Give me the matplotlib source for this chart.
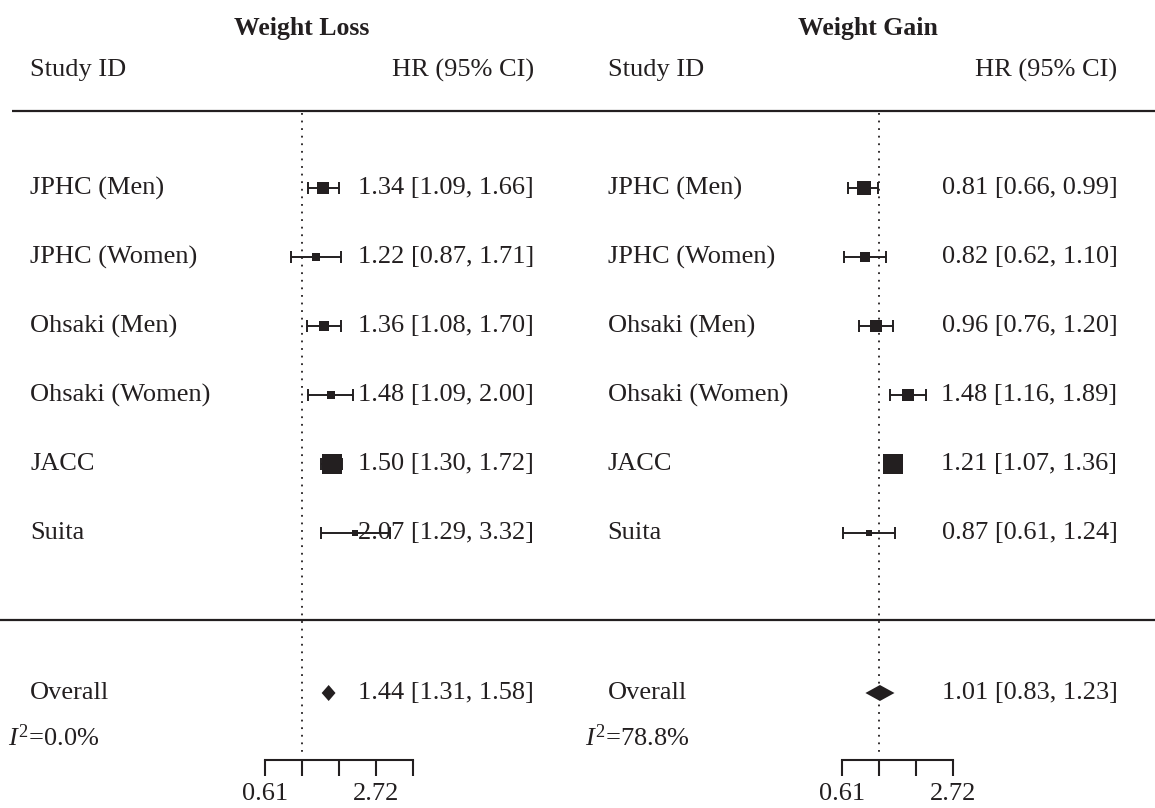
import numpy as np
import matplotlib
matplotlib.use("Agg")
import matplotlib.pyplot as plt
import matplotlib.transforms as mtransforms

plt.rcParams['font.family'] = ['Liberation Serif', 'DejaVu Serif']
plt.rcParams['mathtext.fontset'] = 'custom'
plt.rcParams['mathtext.rm'] = 'Liberation Serif'
plt.rcParams['mathtext.it'] = 'Liberation Serif:italic'

INK = '#231f20'

# data
studies = ['JPHC (Men)', 'JPHC (Women)', 'Ohsaki (Men)', 'Ohsaki (Women)', 'JACC', 'Suita']

loss_hr = [1.34, 1.22, 1.36, 1.48, 1.50, 2.07]
loss_lo = [1.09, 0.87, 1.08, 1.09, 1.30, 1.29]
loss_hi = [1.66, 1.71, 1.70, 2.00, 1.72, 3.32]
loss_weight = [18.8, 6.4, 13.0, 6.4, 52.2, 3.3]
loss_overall = [1.44, 1.31, 1.58]
loss_i2 = '0.0%'

gain_hr = [0.81, 0.82, 0.96, 1.48, 1.21, 0.87]
gain_lo = [0.66, 0.62, 0.76, 1.16, 1.07, 0.61]
gain_hi = [0.99, 1.10, 1.20, 1.89, 1.36, 1.24]
gain_weight = [21.4, 9.5, 13.7, 13.7, 38.1, 3.4]
gain_overall = [1.01, 0.83, 1.23]
gain_i2 = '78.8%'

loss_ticks = [0.6065, 1.0, 1.6487, 2.7183, 4.4817]
gain_ticks = [0.6065, 1.0, 1.6487, 2.7183]
tick_text = {0.6065: '0.61', 2.7183: '2.72'}

# layout, in row units (row 0 = first study, 69 px per row)
def ry(px):
    return (px - 188) / 69.0

W, H = 1155, 808
XLIM = (np.exp(-4.08), np.exp(3.73))

fig = plt.figure(figsize=(W / 100, H / 100), dpi=100)


def panel(x0, title, hr, lo, hi, weight, overall, i2, ticks, val_x, title_x, line_x0):
    ax = fig.add_axes([x0, 0, 0.5, 1])
    ax.set_xscale('log')
    ax.set_xlim(*XLIM)
    ax.set_ylim(ry(H), ry(0))
    ax.axis('off')
    tr = mtransforms.blended_transform_factory(ax.transAxes, ax.transData)

    fs = 19
    ax.text(title_x, ry(29), title, transform=tr, ha='center', va='center',
            fontsize=fs - 0.5, fontweight='bold', color=INK)
    ax.text(0.052, ry(70), 'Study ID', transform=tr, ha='left', va='center', fontsize=fs, color=INK)
    ax.text(val_x, ry(70), 'HR (95% CI)', transform=tr, ha='right', va='center', fontsize=fs, color=INK)

    ax.plot([line_x0, 1], [ry(111), ry(111)], transform=tr, color=INK, lw=1.6, solid_capstyle='butt')
    ax.plot([0, 1], [ry(620), ry(620)], transform=tr, color=INK, lw=1.6, solid_capstyle='butt')

    # reference line at HR = 1
    ax.vlines(1.0, ry(113), ry(752), colors=INK, linestyles=(0, (1, 3.2)), lw=1.3)

    wmax = max(weight)
    for i, name in enumerate(studies):
        ax.errorbar(hr[i], i, xerr=[[hr[i] - lo[i]], [hi[i] - hr[i]]], fmt='none',
                    ecolor=INK, elinewidth=1.4, capsize=4.5, capthick=1.4)
        side = 20 * np.sqrt(weight[i] / wmax)
        ax.plot(hr[i], i, marker='s', ms=side * 0.72, color=INK, mec=INK, mew=0)
        ax.text(0.052, i, name, transform=tr, ha='left', va='center', fontsize=fs, color=INK)
        ax.text(val_x, i, f'{hr[i]:.2f} [{lo[i]:.2f}, {hi[i]:.2f}]', transform=tr,
                ha='right', va='center', fontsize=fs, color=INK)

    est, olo, ohi = overall
    yo = ry(693)
    half = 8 / 69.0
    ax.fill([olo, est, ohi, est], [yo, yo - half, yo, yo + half], color=INK, lw=0)
    ax.text(0.052, yo, 'Overall', transform=tr, ha='left', va='center', fontsize=fs, color=INK)
    ax.text(val_x, yo, f'{est:.2f} [{olo:.2f}, {ohi:.2f}]', transform=tr,
            ha='right', va='center', fontsize=fs, color=INK)
    ax.text(0.013, ry(738), r'$\mathit{I}^{\mathrm{2}}$=' + i2, transform=tr, ha='left',
            va='center', fontsize=fs, color=INK)

    # scale axis
    sx = fig.add_axes([x0, (H - 760) / H, 0.5, 1e-4])
    sx.set_xscale('log')
    sx.set_xlim(*XLIM)
    sx.patch.set_visible(False)
    for s in ['top', 'left', 'right']:
        sx.spines[s].set_visible(False)
    sx.spines['bottom'].set_bounds(ticks[0], ticks[-1])
    sx.spines['bottom'].set_linewidth(1.5)
    sx.spines['bottom'].set_color(INK)
    sx.set_yticks([])
    sx.xaxis.set_minor_locator(matplotlib.ticker.NullLocator())
    sx.set_xticks(ticks)
    sx.set_xticklabels([tick_text.get(t, '') for t in ticks])
    sx.tick_params(axis='x', direction='out', length=11.5, width=1.5, color=INK,
                   labelsize=fs, labelcolor=INK, pad=5)
    return ax


panel(0.0, 'Weight Loss', loss_hr, loss_lo, loss_hi, loss_weight, loss_overall, loss_i2,
      loss_ticks, 0.925, 0.523, 0.02)
panel(0.5, 'Weight Gain', gain_hr, gain_lo, gain_hi, gain_weight, gain_overall, gain_i2,
      gain_ticks, 0.935, 0.503, 0.0)

fig.savefig('out.png', dpi=100)
